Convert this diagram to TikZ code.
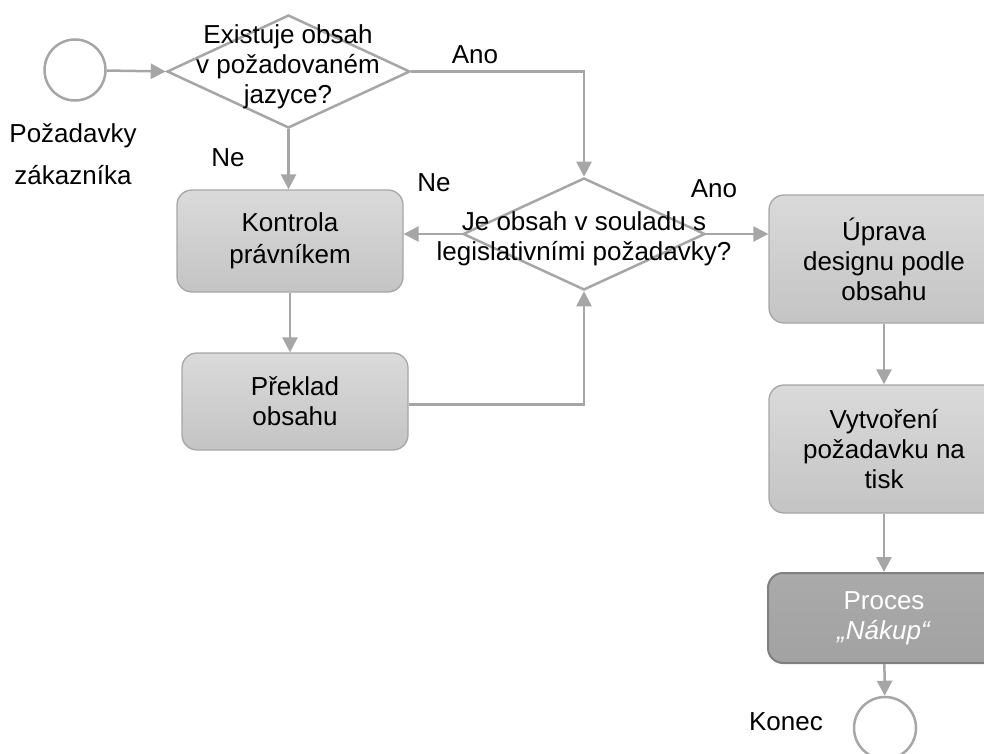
\documentclass[tikz,border=0pt]{standalone}
\usepackage{fontspec}
\setmainfont{Liberation Sans}
\usetikzlibrary{arrows.meta,shapes.geometric}
\definecolor{ln}{HTML}{A6A6A6}
\definecolor{boxtop}{HTML}{DADADA}
\definecolor{boxbot}{HTML}{C4C4C4}
\definecolor{proctop}{HTML}{AAAAAA}
\definecolor{procbot}{HTML}{A2A2A2}
\definecolor{procln}{HTML}{808080}
\begin{document}
\begin{tikzpicture}[x=1pt,y=-1pt,
  font=\fontsize{26}{30}\selectfont,
  conn/.style={draw=ln, line width=2.5pt, -{Triangle[length=15pt,width=15pt]}},
  task/.style={rectangle, rounded corners=15pt, draw=ln, line width=1.3pt,
    top color=boxtop, bottom color=boxbot, minimum width=226pt,
    minimum height=102pt, align=center, inner sep=0pt},
  proc/.style={task, draw=procln, line width=2pt, top color=proctop,
    bottom color=procbot, text=white},
  ev/.style={circle, draw=ln, line width=2.5pt, minimum size=61pt, inner sep=0pt},
  dec/.style={diamond, draw=ln, line width=2.5pt, inner sep=0pt, fill=white},
  lbl/.style={align=center, inner sep=0pt}]
\useasboundingbox (0,0) rectangle (984,754);
\clip (0,0) rectangle (984,754);

% events
\node[ev] (start) at (75,70) {};
\node[ev, minimum size=62pt] (end) at (885,728) {};

% decisions
\node[dec, minimum width=243pt, minimum height=113pt] (d1) at (288.5,71.5) {};
\node[lbl] (d1t) at (288,67) {Existuje obsah\\v požadovaném\\jazyce?};
\node[dec, minimum width=242pt, minimum height=112pt] (d2) at (584,234) {};
\node[lbl] (d2t) at (584,239) {Je obsah v souladu s\\legislativními požadavky?};

% tasks
\node[task, font=\fontsize{26}{32}\selectfont] (k) at (290,241) {Kontrola\\právníkem};
\node[task, minimum height=97pt] (p) at (295,401.5) {Překlad\\obsahu};
\node[task, minimum width=230pt, minimum height=128pt] (u) at (884,259) {Úprava\\designu podle\\obsahu};
\node[task, minimum width=230pt, minimum height=128pt] (v) at (884,449) {Vytvoření\\požadavku na\\tisk};
\node[proc, minimum width=232pt, minimum height=90pt] (pr) at (884,618) {Proces\\\textit{„Nákup“}};

% labels
\node[lbl, font=\fontsize{26}{42}\selectfont] (req) at (73,154) {Požadavky\\zákazníka};
\node[lbl] (ne1) at (228,158) {Ne};
\node[lbl] (ano1) at (475,55) {Ano};
\node[lbl] (ne2) at (434,183) {Ne};
\node[lbl] (ano2) at (714,189) {Ano};
\node[lbl] (konec) at (786,722) {Konec};

% connectors
\draw[conn] (start) -- (d1.west);
\draw[conn] (d1.south) -- (d1.south |- k.north);
\draw[conn] (d1.east) -| (d2.north);
\draw[conn] (d2.west) -- (d2.west -| k.east);
\draw[conn] (d2.east) -- (d2.east -| u.west);
\draw[conn] (k.south) -- (k.south |- p.north);
\draw[conn] ([yshift=-3pt]p.east) -| (d2.south);
\draw[conn] (u) -- (v);
\draw[conn] (v) -- (pr);
\draw[conn] (pr) -- (end);
\end{tikzpicture}
\end{document}
